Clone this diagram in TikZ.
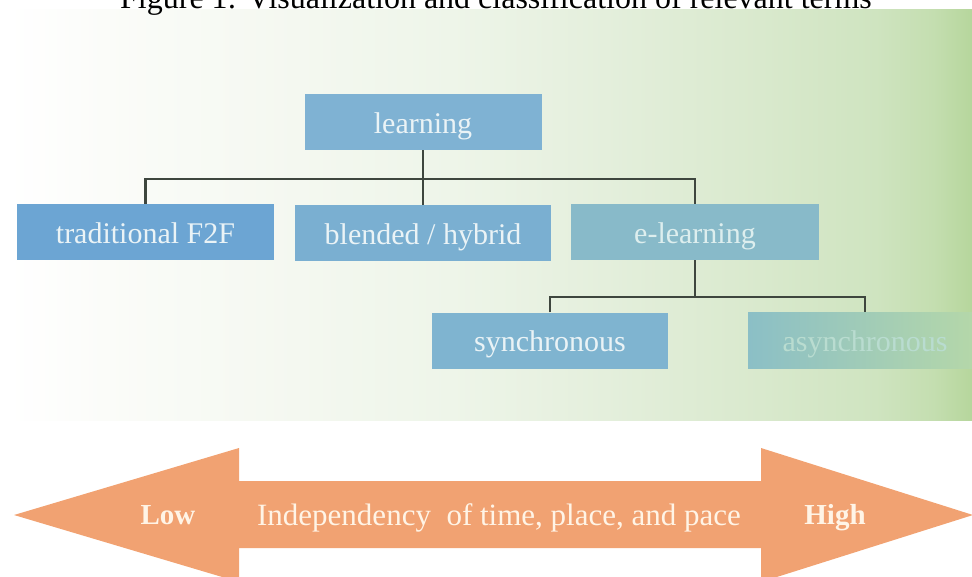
\documentclass[tikz,border=0pt]{standalone}
\usepackage{fontspec}
\setmainfont{Liberation Serif}
\usepackage{xcolor}
\usepackage{tikz}
\definecolor{clbgA}{HTML}{FBFCF9}
\definecolor{clbgB}{HTML}{F4F8F0}
\definecolor{clbgC}{HTML}{EEF5E9}
\definecolor{clbgD}{HTML}{E4EFDC}
\definecolor{clbgE}{HTML}{D9E9CD}
\definecolor{clbgF}{HTML}{CFE4C0}
\definecolor{clbgG}{HTML}{C4DEB0}
\definecolor{clbgH}{HTML}{B6D69C}
\definecolor{cltext}{HTML}{EAF3F6}
\definecolor{clline}{HTML}{3E463E}
\definecolor{clorange}{HTML}{F1A272}
\definecolor{clcream}{HTML}{FFF4E6}
\pgfdeclarehorizontalshading{clgreen}{100bp}{color(0bp)=(white); color(25bp)=(white); color(30bp)=(clbgA); color(40bp)=(clbgB); color(48bp)=(clbgC); color(56bp)=(clbgD); color(64bp)=(clbgE); color(70bp)=(clbgF); color(73bp)=(clbgG); color(75bp)=(clbgH); color(100bp)=(clbgH)}
\tikzset{
  clbox/.style={rectangle, inner sep=0pt, minimum height=56pt, text height=22pt, text depth=0pt, text=cltext, font=\fontsize{30}{36}\selectfont},
  cllink/.style={line width=2.6pt, draw=clline},
  clarrow/.style={fill=clorange},
  cllabel/.style={inner sep=0pt, text height=22pt, text depth=0pt, text=clcream, font=\fontsize{31}{37}\selectfont},
  clend/.style={cllabel, font=\fontsize{29}{35}\selectfont\bfseries},
}

\begin{document}
\begin{tikzpicture}[x=1pt, y=-1pt]
\useasboundingbox (0,0) rectangle (972,576);
\shade[shading=clgreen] (8,9) rectangle (972,420);
\node[anchor=base, inner sep=0pt, font=\fontsize{32}{38}\selectfont] (title) at (496,8) {Figure 1: Visualization and classification of relevant terms};
\node[clbox, minimum width=237pt, fill={rgb,255:red,127;green,178;blue,211}] (learning) at (423,122) {learning};
\node[clbox, minimum width=257pt, fill={rgb,255:red,108;green,165;blue,211}] (trad) at (145.5,232) {traditional F2F};
\node[clbox, minimum width=256pt, fill={rgb,255:red,122;green,175;blue,209}] (blended) at (423,233) {blended / hybrid};
\node[clbox, minimum width=248pt, fill={rgb,255:red,136;green,186;blue,201}, text={rgb,255:red,221;green,238;blue,238}] (elearn) at (695,232) {e-learning};
\node[clbox, minimum width=236pt, fill={rgb,255:red,127;green,180;blue,208}] (sync) at (550,340.5) {synchronous};
\node[clbox, minimum width=234pt, left color={rgb,255:red,139;green,191;blue,198}, right color={rgb,255:red,182;green,216;blue,168}, text={rgb,255:red,185;green,220;blue,208}] (async) at (865,340) {asynchronous};
\coordinate (branch1) at (423,179);
\coordinate (branch2) at (695,297);
\draw[cllink] (learning.south) -- (blended.north);
\draw[cllink] (trad.north) |- (branch1) -| (elearn.north);
\draw[cllink] (elearn.south) -- (branch2);
\draw[cllink] (sync.north) |- (branch2) -| (async.north);
\fill[clarrow] (14,515) -- (239,448) -- (239,481) -- (761,481) -- (761,448) -- (973,515) -- (761,582) -- (761,548) -- (239,548) -- (239,582) -- cycle;
\node[clend] (low) at (168,513) {Low};
\node[cllabel] (scale) at (499,514) {Independency\ \ of time, place, and pace};
\node[clend] (high) at (835,513) {High};
\end{tikzpicture}
\end{document}
